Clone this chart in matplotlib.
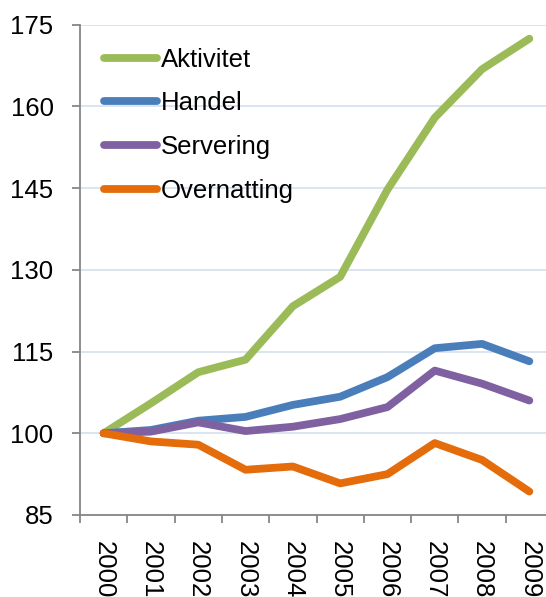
import matplotlib
matplotlib.use("Agg")
from matplotlib import pyplot as plt

years = ['2000', '2001', '2002', '2003', '2004', '2005', '2006', '2007', '2008', '2009']
aktivitet = [100, 105.5, 111.2, 113.5, 123.3, 128.7, 144.7, 157.9, 166.8, 172.4]
handel = [100, 100.6, 102.3, 103.0, 105.2, 106.7, 110.3, 115.6, 116.4, 113.2]
servering = [100, 100.3, 102.0, 100.4, 101.2, 102.6, 104.8, 111.5, 109.1, 106.0]
overnatting = [100, 98.5, 97.9, 93.3, 93.9, 90.8, 92.5, 98.2, 95.1, 89.3]

series = [
    ('Aktivitet', aktivitet, '#9BBB59'),
    ('Handel', handel, '#4A7EBB'),
    ('Servering', servering, '#7F60A0'),
    ('Overnatting', overnatting, '#E46C0A'),
]

plt.rcParams['font.family'] = ['Liberation Sans', 'DejaVu Sans']

fig = plt.figure(figsize=(5.46, 5.97), dpi=100)
W, H = 546, 597
# axes box in pixels: left 80, right 553 (runs past the edge), top 24.5, bottom 515
ax = fig.add_axes([80 / W, (H - 515) / H, 473 / W, (515 - 24.5) / H])

x = list(range(len(years)))
for name, vals, col in series:
    ax.plot(x, vals, color=col, lw=5.6, solid_capstyle='round',
            solid_joinstyle='round', label=name, zorder=3)

ax.set_xlim(-0.5, 9.5)
ax.set_ylim(85, 175)
ax.set_yticks(range(85, 176, 15))
ax.yaxis.grid(True, color='#D9E2EE', lw=1.3, zorder=0)
ax.set_axisbelow(True)

# category ticks sit between the years, labels at the year centres
ax.set_xticks([i - 0.5 for i in range(len(years))])
ax.set_xticklabels([])
ax.set_xticks(x, minor=True)
ax.set_xticklabels(years, minor=True, rotation=-90, va='top', ha='center')
ax.tick_params(axis='x', which='minor', length=0, pad=19, labelsize=18.5)
ax.tick_params(axis='x', which='major', length=6, width=1.3, color='#868686')
ax.tick_params(axis='y', length=6, width=1.3, color='#868686', pad=13, labelsize=18.5)

for side in ['top', 'right']:
    ax.spines[side].set_visible(False)
for side in ['left', 'bottom']:
    ax.spines[side].set_color('#868686')
    ax.spines[side].set_linewidth(1.3)

leg = ax.legend(loc='upper left', bbox_to_anchor=(0.028, 0.974), frameon=False,
                fontsize=18.5, handlelength=2.1, handletextpad=0.12,
                labelspacing=0.77, borderaxespad=0)
for h in leg.get_lines():
    h.set_solid_capstyle('round')

fig.savefig('out.png', dpi=100)
